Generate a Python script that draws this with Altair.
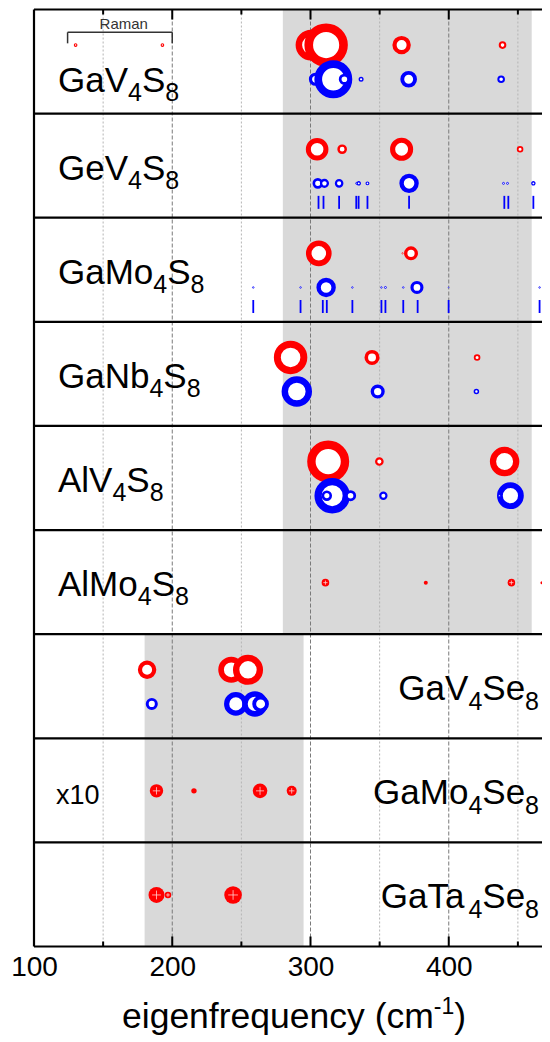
import altair as alt
import pandas as pd

# ---------------- data (frequencies in cm^-1, amplitudes in arbitrary units) -------------
materials = ["GaV4S8", "GeV4S8", "GaMo4S8", "GaNb4S8", "AlV4S8",
             "AlMo4S8", "GaV4Se8", "GaMo4Se8", "GaTa4Se8"]

gav4s8_red_freq = [300.4, 311.3, 365.9, 438.9]
gav4s8_red_amp = [12.2, 17.4, 7.1, 2.8]
gav4s8_raman_freq = [130.1, 192.9]
gav4s8_raman_amp = [1.3, 1.3]
gav4s8_blue_freq = [303.6, 316.5, 324.5, 336.6, 371.0, 437.9]
gav4s8_blue_amp = [5.0, 15.1, 4.2, 1.8, 6.4, 2.8]

gev4s8_red_freq = [304.8, 322.9, 365.9, 451.6]
gev4s8_red_amp = [8.8, 3.6, 9.0, 2.4]
gev4s8_blue_freq = [305.3, 310.1, 320.7, 333.4, 334.9, 341.2, 371.3, 439.6, 442.5, 461.2]
gev4s8_blue_amp = [4.0, 3.4, 3.2, 1.0, 1.6, 1.4, 7.5, 1.0, 1.0, 1.6]
gev4s8_modes = [305.8, 309.4, 320.7, 333.1, 334.8, 341.2, 371.3, 440.2, 443.1, 461.2]

gamo4s8_red_freq = [306.0, 366.6, 372.7, 469.5]
gamo4s8_red_amp = [10.05, 0.7, 5.3, 0.8]
gamo4s8_blue_freq = [258.6, 292.8, 311.3, 330.3, 351.3, 354.2, 367.1, 377.0, 399.9, 465.7]
gamo4s8_blue_amp = [0.8, 0.8, 7.5, 0.8, 0.8, 1.0, 0.8, 4.95, 0.5, 0.8]
gamo4s8_modes = [258.6, 292.8, 308.9, 311.8, 330.3, 351.3, 354.2, 367.1, 377.5, 399.9, 465.7]

ganb4s8_red_freq = [285.6, 344.5, 420.5]
ganb4s8_red_amp = [13.25, 5.75, 2.4]
ganb4s8_blue_freq = [290.1, 348.6, 420.0]
ganb4s8_blue_amp = [12.0, 5.35, 2.0]

alv4s8_red_freq = [312.8, 349.8, 440.4]
alv4s8_red_amp = [16.8, 3.2, 11.6]
alv4s8_blue_freq = [315.7, 311.8, 329.0, 352.7, 444.6, 436.6]
alv4s8_blue_amp = [14.1, 3.9, 4.15, 3.1, 10.5, 1.0]

almo4s8_freq = [310.8, 383.4, 445.3, 467.4]
almo4s8_amp = [3.8, 2.0, 3.8, 1.5]

gav4se8_red_freq = [181.8, 242.7, 254.8]
gav4se8_red_amp = [7.1, 10.2, 11.85]
gav4se8_blue_freq = [185.2, 246.0, 259.8, 263.9]
gav4se8_blue_amp = [4.55, 9.2, 9.95, 6.4]

gamo4se8_freq = [188.6, 215.7, 263.5, 286.4]
gamo4se8_amp = [6.7, 2.7, 7.3, 5.0]

gata4se8_freq = [188.6, 196.9, 244.0]
gata4se8_amp = [8.0, 3.3, 8.8]

# shaded spectral windows: (from, to, first panel, last panel + 1)
shade_from = [280, 180]
shade_to = [460, 295]
shade_p0 = [0, 6]
shade_p1 = [6, 9]

grid_major = [200, 300, 400]
grid_minor = [150, 250, 350, 450]
tick_labels = [100, 200, 300, 400]

# ---------------- layout -------------
PPU = 1.3825                     # pixels per cm^-1
W, H = 508, 937
XMIN = 100
XMAX = XMIN + W / PPU
PANEL = H / 9
ROW_RED, ROW_BLUE, ROW_ONE = 0.342, 0.67, 0.505
TICK_TOP, TICK_BOT = 0.79, 0.915
FONT = "Liberation Sans"

XSCALE = alt.Scale(domain=[XMIN, XMAX], nice=False, zero=False)
YSCALE = alt.Scale(domain=[0, 9], nice=False, zero=False, reverse=True)
XAXIS = alt.Axis(values=tick_labels, labelFontSize=28, labelFont=FONT, labelColor="black",
                 domain=False, ticks=False, grid=False, title=None, labelPadding=7,
                 labelFlush=False)
SIZE = alt.Size("amp:Q", scale=alt.Scale(type="pow", exponent=2, domain=[0, 20], range=[0, 1600]),
                legend=None)
SW = alt.StrokeWidth("amp:Q", scale=alt.Scale(type="pow", exponent=0.8, domain=[0, 20],
                                              range=[0, 9.67]), legend=None)


def X(f):
    return alt.X(f, type="quantitative", scale=XSCALE, axis=XAXIS)


def Y(f):
    return alt.Y(f, type="quantitative", scale=YSCALE, axis=None)


# ring rows
ring_rows = []
ring_sets = [
    (0, gav4s8_red_freq, gav4s8_red_amp, "red"),
    (0, gav4s8_raman_freq, gav4s8_raman_amp, "red"),
    (1, gev4s8_red_freq, gev4s8_red_amp, "red"),
    (2, gamo4s8_red_freq, gamo4s8_red_amp, "red"),
    (3, ganb4s8_red_freq, ganb4s8_red_amp, "red"),
    (4, alv4s8_red_freq, alv4s8_red_amp, "red"),
    (6, gav4se8_red_freq, gav4se8_red_amp, "red"),
    (0, gav4s8_blue_freq, gav4s8_blue_amp, "blue"),
    (1, gev4s8_blue_freq, gev4s8_blue_amp, "blue"),
    (2, gamo4s8_blue_freq, gamo4s8_blue_amp, "blue"),
    (3, ganb4s8_blue_freq, ganb4s8_blue_amp, "blue"),
    (4, alv4s8_blue_freq, alv4s8_blue_amp, "blue"),
    (6, gav4se8_blue_freq, gav4se8_blue_amp, "blue"),
]
for p, fr, am, c in ring_sets:
    off = ROW_RED if c == "red" else ROW_BLUE
    for f, a in zip(fr, am):
        ring_rows.append({"freq": f, "amp": a, "yd": p + off,
                          "col": "#ff0000" if c == "red" else "#0000ff",
                          "o": len(ring_rows)})
rings = pd.DataFrame(ring_rows)

filled_rows = []
for p, fr, am in [(5, almo4s8_freq, almo4s8_amp), (7, gamo4se8_freq, gamo4se8_amp),
                  (8, gata4se8_freq, gata4se8_amp)]:
    for f, a in zip(fr, am):
        filled_rows.append({"freq": f, "amp": a, "yd": p + ROW_ONE})
filled = pd.DataFrame(filled_rows)

mode_rows = []
for p, fr in [(1, gev4s8_modes), (2, gamo4s8_modes)]:
    for f in fr:
        mode_rows.append({"freq": f, "y1": p + TICK_TOP, "y2": p + TICK_BOT})
modes = pd.DataFrame(mode_rows)

shade = pd.DataFrame({"x1": shade_from, "x2": shade_to, "y1": shade_p0, "y2": shade_p1})

# ---------------- text (with sub/superscripts) -------------
ADV = {'G': 778, 'a': 556, 'V': 667, 'S': 667, 'e': 556, 'M': 833, 'o': 556, 'N': 722,
       'b': 556, 'A': 667, 'l': 222, 'T': 611, 'x': 500, 'i': 222, 'g': 556, 'n': 556,
       'f': 278, 'r': 333, 'q': 556, 'u': 556, 'c': 500, 'y': 500, ' ': 278, '(': 333,
       ')': 333, 'm': 833, '-': 333, 'R': 722}


def tw(s, fs):
    return sum(ADV.get(ch, 556) for ch in s) / 1000 * fs


text_rows = []


def add_segments(segs, start_px, base_y):
    """segs: list of (text, fontsize, baseline shift in px)"""
    xpx = start_px
    for t, fs, dy in segs:
        text_rows.append({"xd": XMIN + xpx / PPU, "yd": base_y + dy / PANEL, "fs": fs, "txt": t})
        xpx += tw(t, fs)


def formula_segs(name):
    segs = []
    for ch in name:
        if ch.isdigit():
            segs.append((ch, 25, 9.3))
        else:
            if segs and segs[-1][1] == 35:
                segs[-1] = (segs[-1][0] + ch, 35, 0)
            else:
                segs.append((ch, 35, 0))
    return segs


label_base = [0.79, 0.635, 0.635, 0.635, 0.635, 0.635, 0.635, 0.635, 0.635]
for i, name in enumerate(materials):
    segs = formula_segs(name)
    if i < 6:
        add_segments(segs, 24, i + label_base[i])
    else:
        total = sum(tw(t, fs) for t, fs, _ in segs)
        add_segments(segs, 505 - total, i + label_base[i])

add_segments([("x10", 27, 0)], 22, 7 + 0.63)
add_segments([("Raman", 15, 0)], (164.9 - XMIN) * PPU - tw("Raman", 15) / 2, 0 + 0.19)
title_segs = [("eigenfrequency (cm", 35.5, 0), ("-1", 23, -14), (")", 35.5, 0)]
title_w = sum(tw(t, fs) for t, fs, _ in title_segs)
add_segments(title_segs, 260 - title_w / 2, 9 + 81 / PANEL)
texts = pd.DataFrame(text_rows)

# ---------------- layers -------------
layers = []
layers.append(alt.Chart(shade).mark_rect(color="#d9d9d9").encode(
    x=X("x1"), x2="x2", y=Y("y1"), y2="y2"))
layers.append(alt.Chart(pd.DataFrame({"g": grid_minor})).mark_rule(
    color="#b4b4b4", strokeWidth=1, strokeDash=[2, 2]).encode(x=X("g")))
layers.append(alt.Chart(pd.DataFrame({"g": grid_major})).mark_rule(
    color="#7a7a7a", strokeWidth=1, strokeDash=[4, 2]).encode(x=X("g")))
layers.append(alt.Chart(pd.DataFrame({"s": list(range(10))})).mark_rule(
    color="black", strokeWidth=2.2).encode(y=Y("s")))
layers.append(alt.Chart(pd.DataFrame({"b": [XMIN]})).mark_rule(
    color="black", strokeWidth=2.2).encode(x=X("b")))
for vals, ln in [(grid_major, 10), (grid_minor, 5)]:
    df = pd.DataFrame({"t": vals})
    layers.append(alt.Chart(df).mark_rule(color="black", strokeWidth=2).encode(
        x=X("t"), y=alt.value(0), y2=alt.value(ln)))
    layers.append(alt.Chart(df).mark_rule(color="black", strokeWidth=2).encode(
        x=X("t"), y=alt.value(H), y2=alt.value(H - ln)))

# Raman bracket
lo, hi = min(gav4s8_raman_freq) - 5.8, 200
bracket = pd.DataFrame({"x1": [lo, lo, hi], "x2": [hi, lo, hi],
                        "y1": [0.219, 0.219, 0.219], "y2": [0.219, 0.325, 0.325]})
layers.append(alt.Chart(bracket).mark_rule(color="#333333", strokeWidth=1.5).encode(
    x=X("x1"), x2="x2", y=Y("y1"), y2="y2"))

layers.append(alt.Chart(modes).mark_rule(color="#0000ff", strokeWidth=1.8).encode(
    x=X("freq"), y=Y("y1"), y2="y2"))

layers.append(alt.Chart(rings).mark_point(shape="circle", fill="white", filled=False,
                                          opacity=1, fillOpacity=1, strokeOpacity=1).encode(
    x=X("freq"), y=Y("yd"), size=SIZE, strokeWidth=SW,
    stroke=alt.Stroke("col:N", scale=None), order=alt.Order("o:Q")))

layers.append(alt.Chart(filled).mark_point(shape="circle", filled=True, color="#ff0000",
                                           opacity=1, strokeWidth=0).encode(
    x=X("freq"), y=Y("yd"), size=SIZE))
layers.append(alt.Chart(filled).transform_filter("datum.amp >= 3").mark_point(
    shape="M-0.55,0H0.55M0,-0.55V0.55", filled=False, color="#ffd0d0", opacity=1,
    strokeWidth=0.8).encode(x=X("freq"), y=Y("yd"), size=SIZE))

for fs in sorted(texts["fs"].unique()):
    sub = texts[texts["fs"] == fs]
    col = "#333333" if fs == 15 else "black"
    layers.append(alt.Chart(sub).mark_text(align="left", baseline="alphabetic", fontSize=float(fs),
                                           font=FONT, color=col).encode(
        x=X("xd"), y=Y("yd"), text="txt:N"))

chart = alt.layer(*layers).properties(
    width=W, height=H,
    padding={"left": 26, "top": 1.5, "right": 0, "bottom": 95},
    autosize=alt.AutoSizeParams(type="none"),
    background="white",
).configure_view(stroke=None)

chart.save("out.html", embed_options={"renderer": "svg", "actions": False})
